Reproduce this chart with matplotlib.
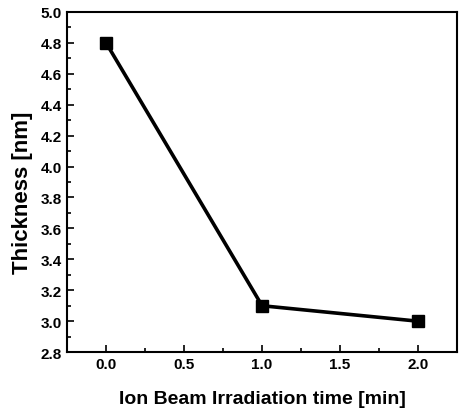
import matplotlib
matplotlib.use('Agg')
import matplotlib.pyplot as plt
from matplotlib.ticker import MultipleLocator

# data
irradiation_time = [0.0, 1.0, 2.0]
thickness = [4.8, 3.1, 3.0]

plt.rcParams['font.family'] = ['Liberation Sans', 'DejaVu Sans']
plt.rcParams['font.weight'] = 'bold'

fig = plt.figure(figsize=(4.59, 4.14), dpi=100)
ax = fig.add_axes([0.146, 0.147, 0.85, 0.822])

ax.plot(irradiation_time, thickness, color='black', linewidth=2.6,
        marker='s', markersize=8)

ax.set_xlim(-0.25, 2.25)
ax.set_ylim(2.8, 5.0)

# major / minor ticks
ax.xaxis.set_major_locator(MultipleLocator(0.5))
ax.xaxis.set_minor_locator(MultipleLocator(0.25))
ax.yaxis.set_major_locator(MultipleLocator(0.2))
ax.yaxis.set_minor_locator(MultipleLocator(0.1))
ax.tick_params(which='both', direction='in', top=False, right=False,
               width=1.2, labelsize=11)
ax.tick_params(which='major', length=5)
ax.tick_params(which='minor', length=3)
ax.xaxis.set_major_formatter(plt.FormatStrFormatter('%.1f'))
ax.yaxis.set_major_formatter(plt.FormatStrFormatter('%.1f'))

for spine in ax.spines.values():
    spine.set_linewidth(1.5)

ax.set_xlabel('Ion Beam Irradiation time [min]', fontsize=14, fontweight='bold',
              va='center')
ax.set_ylabel('Thickness [nm]', fontsize=16, fontweight='bold', va='center')
ax.xaxis.set_label_coords(0.5, -0.135)
ax.yaxis.set_label_coords(-0.115, 0.47)

fig.savefig('out.png', dpi=100)
